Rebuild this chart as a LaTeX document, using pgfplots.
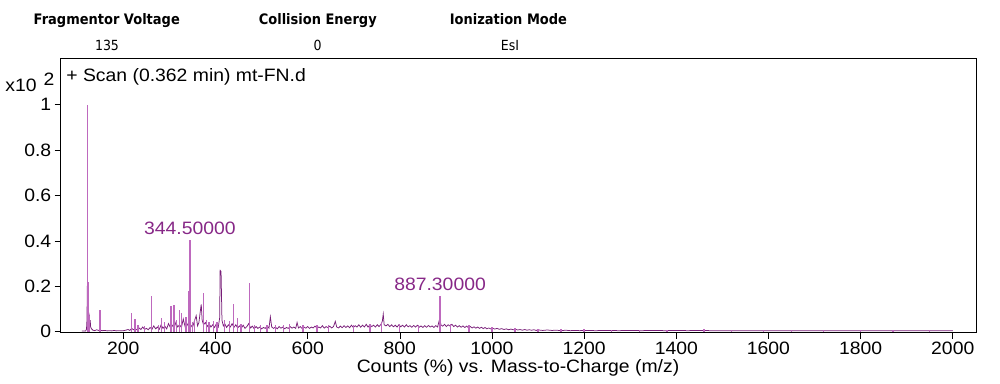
\documentclass[border=0pt]{standalone}
\usepackage{pgfplots}
\pgfplotsset{compat=1.18}
\usepackage{fontspec}
\setmainfont{Liberation Sans}[FakeStretch=1.08]
\newfontfamily\hdrfont{DejaVu Sans}[FakeStretch=0.9]
\definecolor{lightpk}{RGB}{190,105,190}
\definecolor{darkpk}{RGB}{120,30,120}
\definecolor{lblpk}{RGB}{135,40,135}
\begin{document}
\begin{tikzpicture}[x=1bp,y=1bp]
\useasboundingbox (-60.7,-50.3) rectangle (939.3,332.7);
\begin{axis}[at={(0,0)}, anchor=south west, scale only axis,
  width=916bp, height=274.4bp,
  xmin=64, xmax=2052, ymin=-0.005, ymax=1.205,
  xtick={200,400,600,800,1000,1200,1400,1600,1800,2000},
  ytick={0,0.2,0.4,0.6,0.8,1},
  scaled ticks=false,
  /pgf/number format/1000 sep={},
  /pgf/number format/assume math mode=true,
  ticklabel style={font=\fontsize{18}{20}\selectfont},
  tick align=outside, major tick length=6bp,
  xtick pos=bottom, ytick pos=left,
  tick style={black, line width=0.6bp},
  axis line style={line width=1.5bp},
]
% noise profile (dark)
\addplot[darkpk, line width=0.75bp, sharp plot] coordinates {
(110,0.003)(118,0.003)(120,0.01)(121,0.05)(122,0.22)(123,0.2)(124,0.06)(125,0.08)(126,0.07)(127,0.03)(128,0.05)(129,0.02)(131,0.012)(134,0.006)(138,0.004)(142,0.008)(146,0.005)(150,0.006)(155,0.004)(160,0.005)(165,0.003)(170,0.004)(175,0.003)(180,0.005)(185,0.003)(190,0.004)(195,0.003)(200,0.004)(205,0.006)(210,0.009)(214,0.005)(218,0.014)(222,0.008)(226,0.012)(230,0.007)(234,0.016)(238,0.009)(242,0.02)(246,0.01)(250,0.014)(254,0.008)(258,0.018)(262,0.01)(266,0.025)(270,0.012)(274,0.02)(278,0.01)(282,0.03)(286,0.014)(290,0.024)(294,0.012)(298,0.035)(302,0.018)(306,0.028)(310,0.015)(314,0.04)(318,0.02)(322,0.03)(326,0.018)(330,0.055)(334,0.022)(338,0.035)(342,0.02)(346,0.03)(350,0.018)(354,0.045)(358,0.07)(361,0.025)(364,0.04)(367,0.09)(369,0.12)(371,0.05)(374,0.03)(378,0.04)(382,0.022)(386,0.035)(390,0.02)(394,0.03)(398,0.018)(402,0.035)(406,0.02)(409,0.06)(410,0.27)(412,0.265)(414,0.05)(417,0.025)(420,0.035)(424,0.018)(428,0.03)(432,0.02)(436,0.035)(440,0.018)(444,0.03)(448,0.016)(452,0.025)(456,0.015)(460,0.028)(464,0.014)(468,0.022)(472,0.035)(476,0.016)(480,0.024)(484,0.012)(488,0.022)(492,0.014)(496,0.02)(500,0.012)(504,0.018)(508,0.014)(512,0.025)(516,0.015)(519,0.065)(522,0.02)(526,0.014)(530,0.02)(534,0.012)(538,0.022)(542,0.015)(546,0.02)(550,0.012)(554,0.018)(558,0.014)(562,0.022)(566,0.015)(570,0.02)(574,0.014)(577,0.04)(580,0.016)(584,0.022)(588,0.013)(592,0.02)(596,0.015)(600,0.022)(604,0.014)(608,0.02)(612,0.016)(616,0.024)(620,0.015)(624,0.02)(628,0.016)(632,0.026)(636,0.015)(640,0.022)(644,0.017)(648,0.024)(652,0.016)(656,0.022)(660,0.045)(663,0.02)(667,0.016)(671,0.024)(675,0.017)(679,0.026)(683,0.018)(687,0.025)(691,0.017)(695,0.028)(699,0.018)(703,0.026)(707,0.02)(711,0.03)(715,0.019)(719,0.028)(723,0.02)(727,0.032)(731,0.02)(735,0.03)(739,0.022)(743,0.028)(747,0.02)(751,0.03)(755,0.022)(759,0.032)(762,0.045)(764,0.077)(766,0.03)(770,0.025)(774,0.032)(778,0.022)(782,0.03)(786,0.021)(790,0.028)(794,0.02)(798,0.03)(802,0.021)(806,0.028)(810,0.02)(814,0.03)(818,0.021)(822,0.026)(826,0.019)(830,0.027)(834,0.02)(838,0.028)(842,0.019)(846,0.025)(850,0.018)(854,0.026)(858,0.019)(862,0.027)(866,0.02)(870,0.025)(874,0.018)(878,0.026)(882,0.02)(885,0.045)(887,0.06)(889,0.03)(893,0.024)(897,0.032)(901,0.022)(905,0.03)(909,0.024)(913,0.032)(917,0.022)(921,0.028)(925,0.02)(929,0.026)(933,0.019)(937,0.025)(941,0.018)(945,0.024)(949,0.017)(953,0.022)(957,0.016)(961,0.021)(965,0.015)(969,0.02)(973,0.014)(977,0.019)(981,0.013)(985,0.018)(989,0.012)(993,0.016)(997,0.012)(1001,0.015)(1006,0.011)(1011,0.014)(1016,0.01)(1021,0.013)(1026,0.009)(1031,0.012)(1036,0.008)(1041,0.011)(1046,0.008)(1051,0.01)(1056,0.007)(1061,0.009)(1066,0.006)(1071,0.009)(1076,0.006)(1081,0.008)(1086,0.006)(1091,0.008)(1096,0.005)(1101,0.007)(1110,0.005)(1120,0.007)(1130,0.005)(1140,0.006)(1150,0.004)(1160,0.006)(1170,0.004)(1180,0.005)(1190,0.004)(1200,0.005)(1225,0.004)(1250,0.005)(1275,0.004)(1300,0.005)(1325,0.004)(1350,0.005)(1375,0.004)(1400,0.005)(1425,0.004)(1450,0.005)(1475,0.004)(1500,0.004)(1550,0.004)(1600,0.004)(1650,0.004)(1700,0.004)(1750,0.004)(1800,0.004)(1850,0.004)(1900,0.004)(1950,0.004)(2000,0.004)
};
% centroid sticks (light)
\addplot[lightpk, line width=1.3bp, ycomb, no markers] coordinates {
(122,1.0)(123.5,0.22)(126,0.07)(149.5,0.096)(218,0.08)(225,0.055)(232,0.03)(246,0.025)(261.6,0.155)(276,0.03)(283,0.06)(290,0.04)(303.5,0.113)(310,0.117)(316,0.05)(321.5,0.097)(326.7,0.08)(336,0.063)(342,0.18)(344.5,0.404)(350,0.04)(355,0.05)(373.6,0.172)(380,0.05)(386,0.04)(395,0.045)(403,0.04)(420,0.05)(430,0.045)(439.5,0.12)(447,0.06)(455,0.035)(474,0.216)(485,0.03)(497,0.03)(512,0.03)(530,0.03)(548,0.03)(560,0.035)(590,0.03)(620,0.03)(645,0.03)(700,0.03)(735,0.035)(760,0.04)(800,0.035)(840,0.03)(887.3,0.155)(910,0.035)(950,0.03)(1000,0.02)(1050,0.015)(1100,0.012)(1150,0.01)(1200,0.01)(1260,0.009)(1320,0.008)(1380,0.009)(1460,0.012)(1520,0.008)(1590,0.008)(1650,0.007)(1720,0.008)(1800,0.007)(1870,0.007)(1950,0.007)
};
\node[lblpk, anchor=base, yshift=5bp, font=\fontsize{18}{20}\selectfont] at (axis cs:344.5,0.404) {344.50000};
\node[lblpk, anchor=base, yshift=6bp, font=\fontsize{18}{20}\selectfont] at (axis cs:887.3,0.155) {887.30000};
\node[anchor=base west, inner sep=0pt, font=\fontsize{18}{20}\selectfont] at (rel axis cs:0.006,0.914) {+ Scan (0.362 min) mt-FN.d};
\end{axis}
% header
\node[anchor=base, font=\hdrfont\bfseries\fontsize{14.5}{16}\selectfont] at (46.1,308.7) {Fragmentor Voltage};
\node[anchor=base, font=\hdrfont\bfseries\fontsize{14.5}{16}\selectfont] at (257.1,308.7) {Collision Energy};
\node[anchor=base, font=\hdrfont\bfseries\fontsize{14.5}{16}\selectfont] at (447.7,308.7) {Ionization Mode};
\node[anchor=base, font=\hdrfont\fontsize{14}{16}\selectfont] at (46.3,282.7) {135};
\node[anchor=base, font=\hdrfont\fontsize{14}{16}\selectfont] at (256.9,282.7) {0};
\node[anchor=base, font=\hdrfont\fontsize{14}{16}\selectfont] at (449.3,282.7) {EsI};
% exponent
\node[font=\fontsize{18}{20}\selectfont] at (-39.7,247.7) {x10};
\node[font=\fontsize{18}{20}\selectfont] at (-11.7,253.7) {2};
% x label
\node[font=\fontsize{18}{20}\selectfont] at (457.3,-35.3) {Counts (\%) vs. Mass-to-Charge (m/z)};
\end{tikzpicture}
\end{document}
